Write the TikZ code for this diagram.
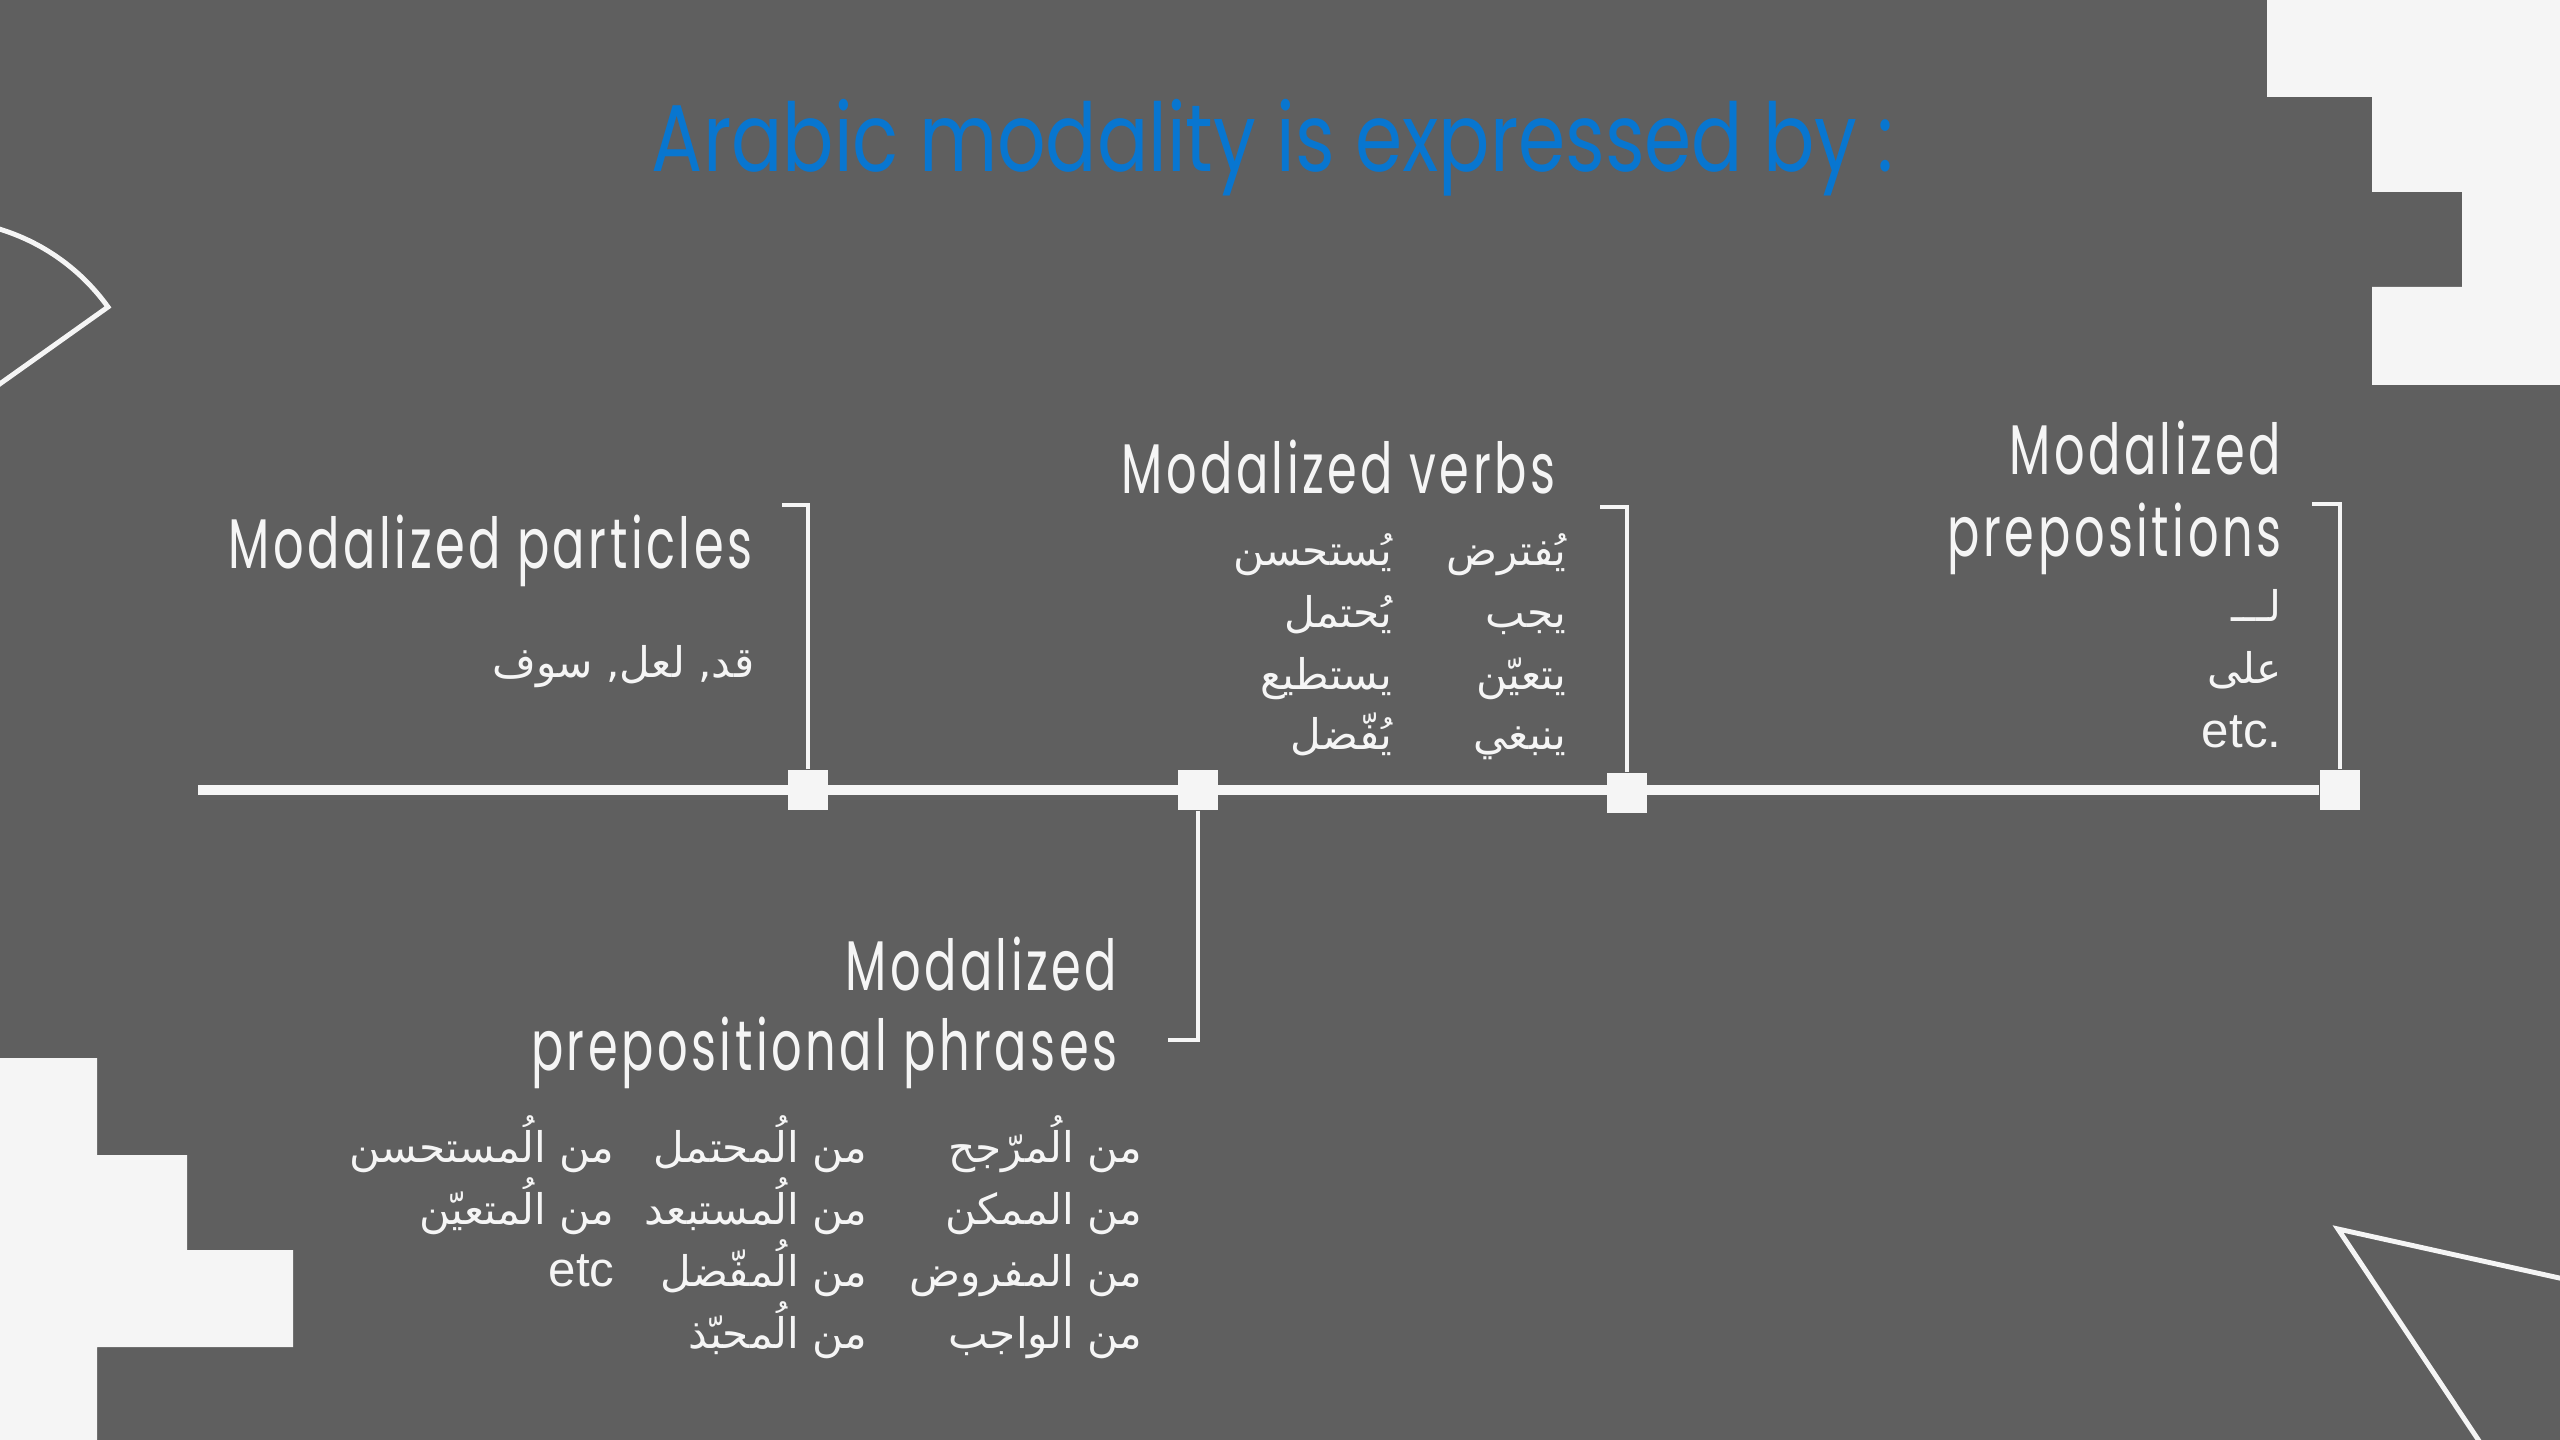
\documentclass[tikz,border=0pt]{standalone}
\usepackage{fontspec}
\usepackage{tikz}
\TeXXeTstate=1
\newfontfamily\headfont[FakeStretch=0.8]{Poppins}
\newfontfamily\labelfont[FakeStretch=0.68, LetterSpace=5]{Poppins}
\newfontfamily\arabicfont[Script=Arabic]{DejaVu Sans}
\newfontfamily\latinfont{Liberation Sans}

\definecolor{slidegray}{HTML}{5F5F5F}
\definecolor{paper}{HTML}{F5F5F5}
\definecolor{titleblue}{RGB}{8,118,208}

\tikzset{
    headline/.style={text=titleblue, font=\headfont\fontsize{27}{32}\selectfont, inner sep=0pt, anchor=base},
    heading/.style={text=paper, font=\labelfont\fontsize{20}{24}\selectfont, inner sep=0pt, anchor=base east},
    artext/.style={text=paper, font=\arabicfont\fontsize{12}{15}\selectfont, inner sep=0pt, anchor=base east},
    latintext/.style={text=paper, font=\latinfont\fontsize{14}{17}\selectfont, inner sep=0pt, anchor=base east},
    milestone/.style={rectangle, fill=paper, minimum size=0.4cm, inner sep=0pt},
    timeline/.style={draw=paper, line width=3.1pt},
    bracket/.style={draw=paper, line width=1.1pt},
    deco/.style={draw=paper, line width=1.4pt}
}

\begin{document}
\begin{tikzpicture}[x=0.01cm, y=-0.01cm]
    % Slide background
    \fill[slidegray] (0,0) rectangle (2560,1440);
    \useasboundingbox (0,0) rectangle (2560,1440);

    % Corner decorations
    \begin{scope}
        \clip (0,0) rectangle (2560,1440);
        \fill[paper] (2267,0) -- (2267,97) -- (2372,97) -- (2372,192) -- (2462,192) -- (2462,287)
            -- (2372,287) -- (2372,385) -- (2560,385) -- (2560,0) -- cycle;
        \fill[paper] (0,1058) -- (97,1058) -- (97,1155) -- (187,1155) -- (187,1250) -- (293,1250)
            -- (293,1347) -- (97,1347) -- (97,1440) -- (0,1440) -- cycle;
        \draw[deco, line join=miter] (-20,398) -- (108,307) arc[start angle=-35.6, end angle=-80, radius=208];
        \draw[deco, line join=miter] (2600,1287) -- (2338,1229) -- (2505,1480);
    \end{scope}

    % Title
    \node[headline] (title) at (1273,172) {Arabic modality is expressed by :};

    % Timeline with its four stops
    \node[milestone] (m1) at (808,790) {};
    \node[milestone] (m2) at (1198,790) {};
    \node[milestone] (m3) at (1627,793) {};
    \node[milestone] (m4) at (2340,790) {};
    \coordinate (start) at (198,790);
    \draw[timeline] (start) -- (m4);

    % Brackets from the stops to the labels
    \coordinate (c1) at (782,505);
    \coordinate (c2) at (1168,1040);
    \coordinate (c3) at (1600,507);
    \coordinate (c4) at (2312,504);
    \draw[bracket] (m1.north) |- (c1);
    \draw[bracket] (m2.south) |- (c2);
    \draw[bracket] (m3.north) |- (c3);
    \draw[bracket] (m4.north) |- (c4);

    % Modalized particles
    \node[heading] (lpart) at (753,569) {Modalized particles};
    \node[artext] (apart) at (755,678) {\beginR قد, لعل, سوف\endR};

    % Modalized verbs
    \node[heading] (lverb) at (1556,494) {Modalized verbs};
    \node[artext] (v1) at (1567,566) {\beginR يُفترض\endR};
    \node[artext] (v2) at (1567,628) {\beginR يجب\endR};
    \node[artext] (v3) at (1567,690) {\beginR يتعيّن\endR};
    \node[artext] (v4) at (1567,750) {\beginR ينبغي\endR};
    \node[artext] (v5) at (1393,566) {\beginR يُستحسن\endR};
    \node[artext] (v6) at (1393,628) {\beginR يُحتمل\endR};
    \node[artext] (v7) at (1393,690) {\beginR يستطيع\endR};
    \node[artext] (v8) at (1393,750) {\beginR يُفّضل\endR};

    % Modalized prepositions
    \node[heading] (lprep1) at (2282,475) {Modalized};
    \node[heading] (lprep2) at (2282,557) {prepositions};
    \node[artext] (p1) at (2282,622) {\beginR لـــ\endR};
    \node[artext] (p2) at (2282,684) {\beginR على\endR};
    \node[latintext] (p3) at (2282,748) {etc.};

    % Modalized prepositional phrases
    \node[heading] (lphr1) at (1118,991) {Modalized};
    \node[heading] (lphr2) at (1118,1070) {prepositional phrases};
    \node[artext] (f1) at (1143,1162) {\beginR من الُمرّجح\endR};
    \node[artext] (f2) at (1143,1224) {\beginR من الممكن\endR};
    \node[artext] (f3) at (1143,1286) {\beginR من المفروض\endR};
    \node[artext] (f4) at (1143,1348) {\beginR من الواجب\endR};
    \node[artext] (f5) at (868,1162) {\beginR من الُمحتمل\endR};
    \node[artext] (f6) at (868,1224) {\beginR من الُمستبعد\endR};
    \node[artext] (f7) at (868,1286) {\beginR من الُمفّضل\endR};
    \node[artext] (f8) at (868,1348) {\beginR من الُمحبّذ\endR};
    \node[artext] (f9) at (615,1162) {\beginR من الُمستحسن\endR};
    \node[artext] (f10) at (615,1224) {\beginR من الُمتعيّن\endR};
    \node[latintext] (f11) at (615,1286) {etc};
\end{tikzpicture}
\end{document}
